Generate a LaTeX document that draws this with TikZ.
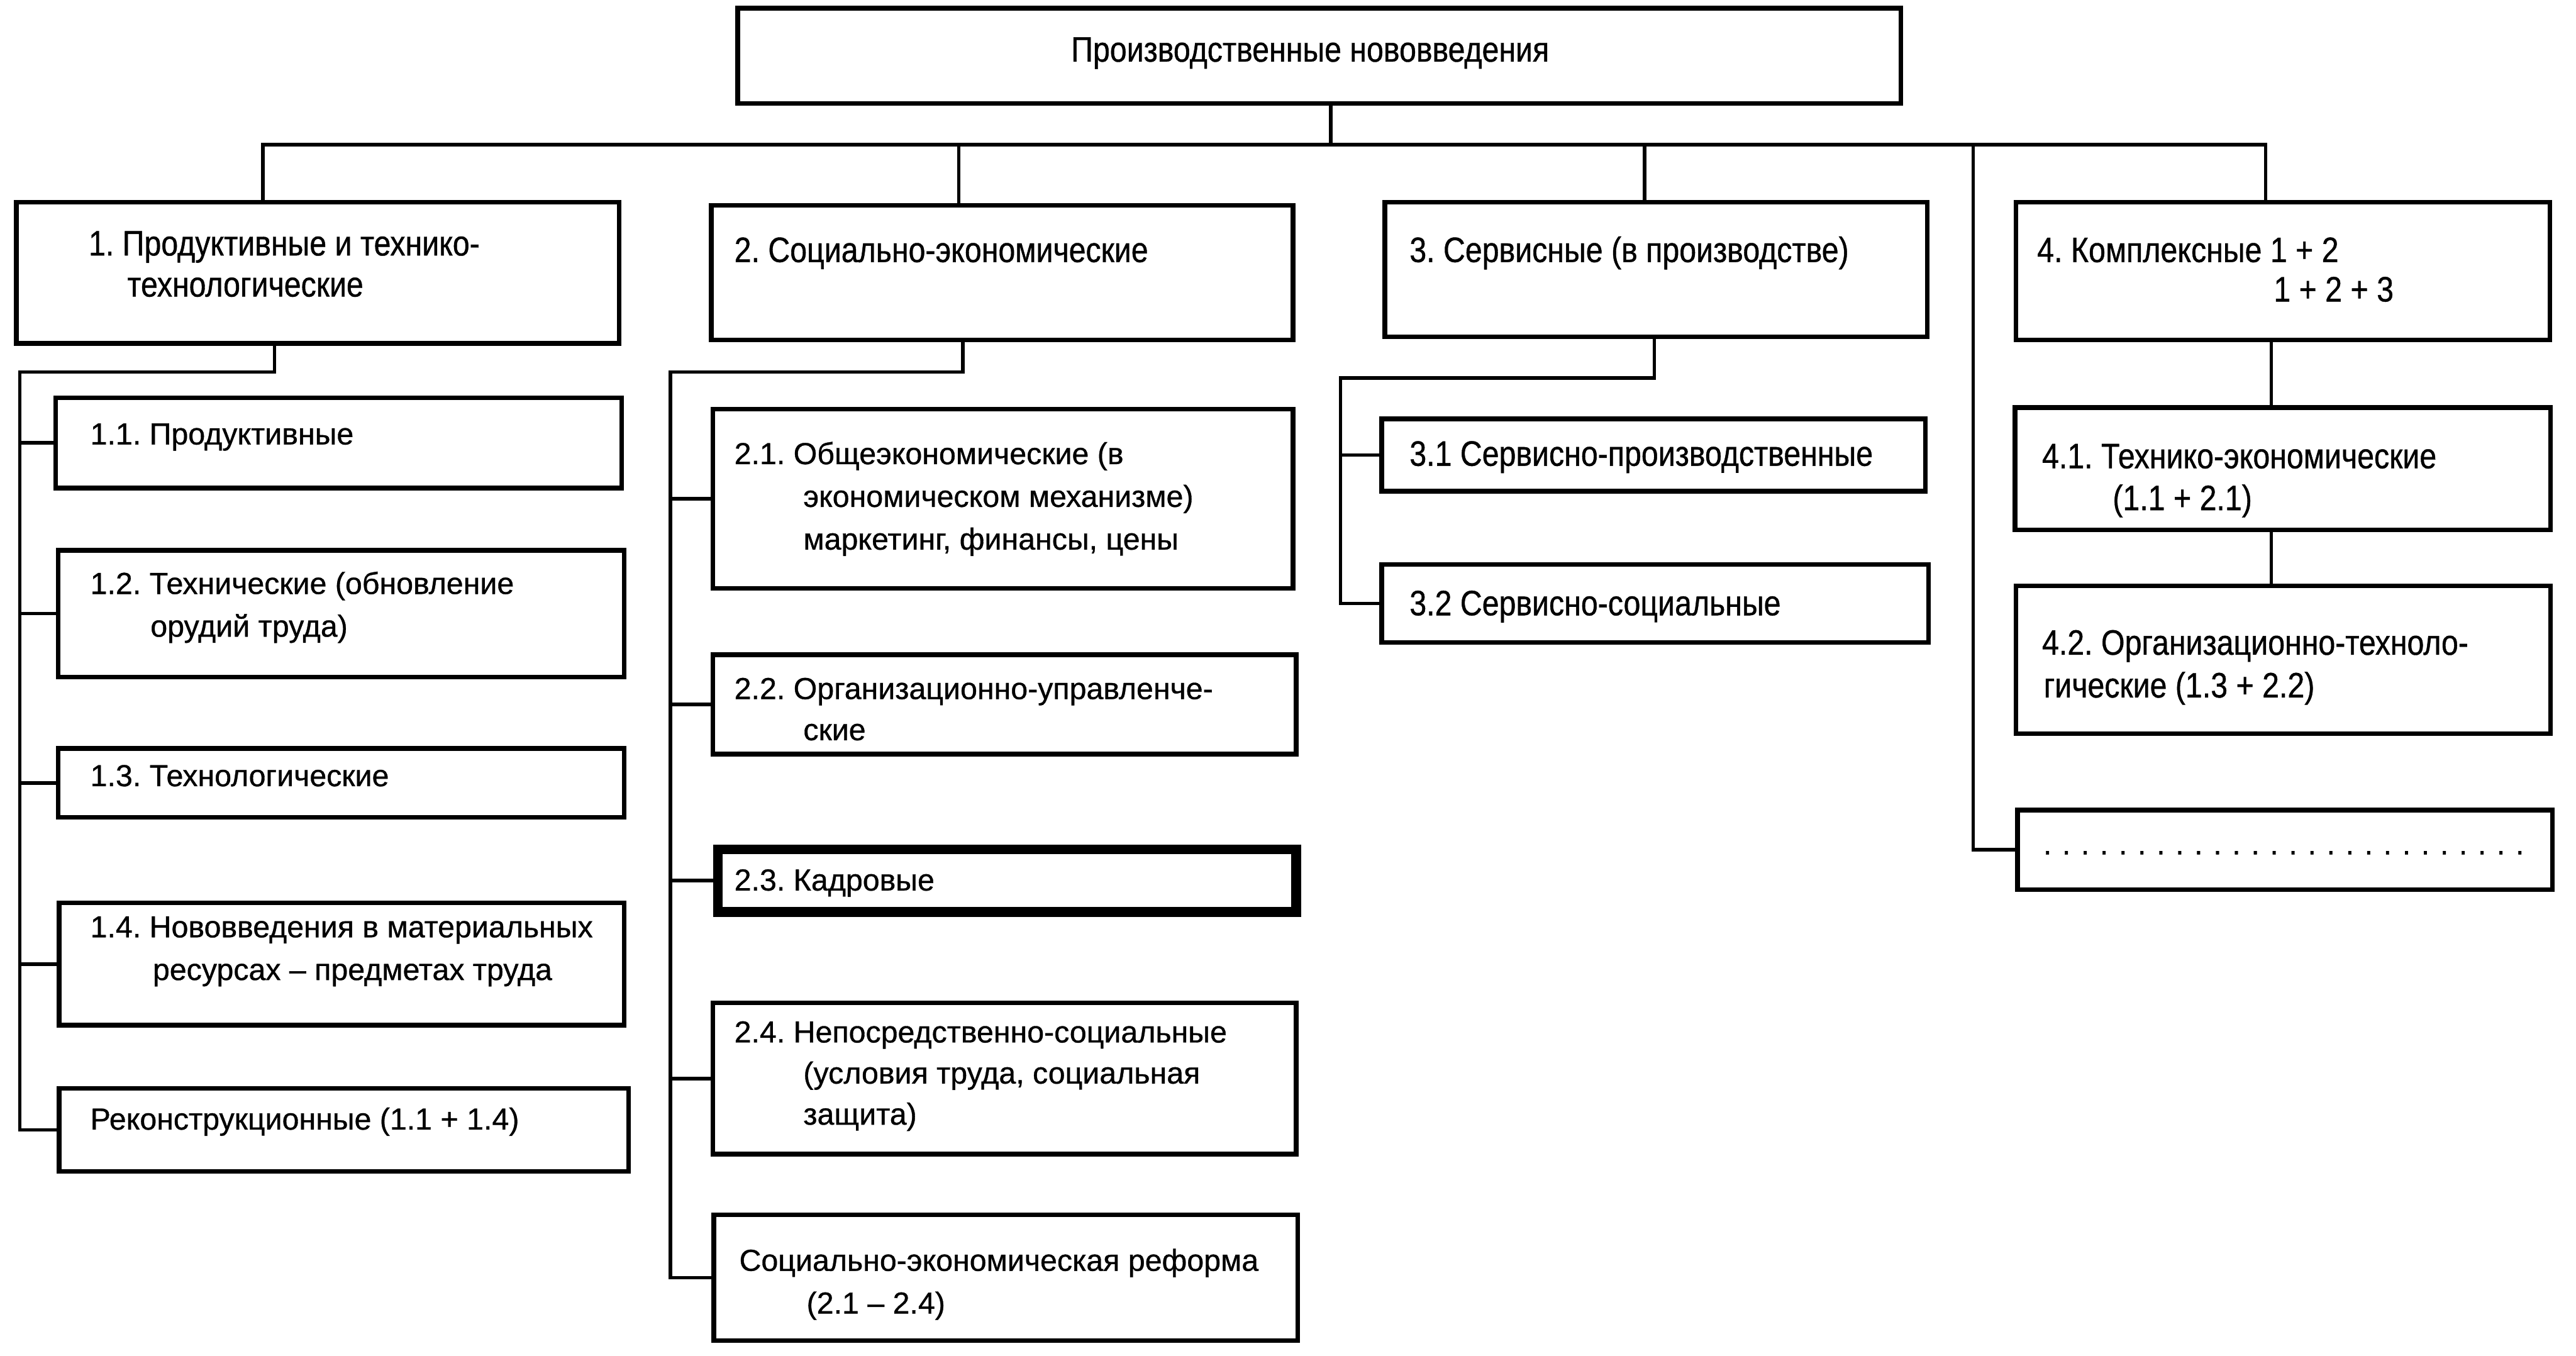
\documentclass[tikz,border=0pt]{standalone}
\usepackage{fontspec}
\setmainfont[FakeBold=0.7]{Liberation Sans}
\newfontfamily\narrowfont[FakeStretch=0.86, FakeBold=0.7]{Liberation Sans}
\frenchspacing
\tikzset{
  box/.style={draw, line width=2.8pt, inner sep=0pt, outer sep=0pt, anchor=north west},
  heavybox/.style={box, line width=6pt},
  conn/.style={line width=2.1pt, line join=miter},
  txt/.style={inner sep=0pt, outer sep=0pt, anchor=base west},
  subtxt/.style={txt, font=\fontsize{18.5}{26}\selectfont\frenchspacing},
  nartxt/.style={txt, font=\narrowfont\fontsize{21.5}{25}\selectfont\frenchspacing},
}
\newcommand\mybox[6][box]{\node[#1, minimum width={#5pt-#3pt}, minimum height={#6pt-#4pt}] (#2) at (#3,#4) {};}
\newcommand\twol[3]{\vtop{\hbox{#1}\hbox{\kern#2pt #3}}}
\newcommand\threel[4]{\vtop{\hbox{#1}\hbox{\kern#2pt #3}\hbox{\kern#2pt #4}}}
\newcommand\dd{\hbox to 11.5pt{\hss.\hss}}
\begin{document}
\begin{tikzpicture}[x=1pt, y=-1pt]
\useasboundingbox (0,0) rectangle (1568,825);
\fill[white] (0,0) rectangle (1568,825);

% boxes
\mybox{top}{449}{5}{1157}{63}
\mybox{b1}{10}{123}{377}{209}
\mybox{b2}{433}{125}{787}{207}
\mybox{b3}{843}{123}{1173}{205}
\mybox{b4}{1227}{123}{1552}{207}

\mybox{b11}{34}{242}{378.5}{297}
\mybox{b12}{35.5}{335}{380}{412}
\mybox{b13}{35.5}{455.5}{380}{497.5}
\mybox{b14}{36}{549.5}{380}{624}
\mybox{b15}{36}{662.5}{382.5}{713}

\mybox{b21}{434}{249}{787}{358}
\mybox{b22}{434}{398.5}{789}{459}
\mybox[heavybox]{b23}{437}{517}{789}{555}
\mybox{b24}{434}{610.5}{789}{702.5}
\mybox{b25}{434.5}{739.5}{790}{816}

\mybox{b31}{841}{255}{1172}{299}
\mybox{b32}{841}{343.5}{1174}{391}

\mybox{b41}{1226.5}{248}{1552.5}{322.5}
\mybox{b42}{1227}{356.5}{1552.5}{446.5}
\mybox{b43}{1228}{493}{1553.5}{541.5}

% texts
\node[nartxt] (t0) at (652,37.5) {Производственные нововведения};
\node[nartxt] (t1) at (54,155.5) {\twol{1. Продуктивные и технико-}{23.5}{технологические}};
\node[nartxt] (t2) at (447,159.5) {2. Социально-экономические};
\node[nartxt] (t3) at (858,159.5) {3. Сервисные (в производстве)};
\node[nartxt, font=\narrowfont\fontsize{21.5}{24}\selectfont] (t4) at (1240,159.5) {\twol{4. Комплексные 1 + 2}{144}{1 + 2 + 3}};

\node[subtxt] (t11) at (55,270.5) {1.1. Продуктивные};
\node[subtxt] (t12) at (55,361.5) {\twol{1.2. Технические (обновление}{36.6}{орудий труда)}};
\node[subtxt] (t13) at (55,478.5) {1.3. Технологические};
\node[subtxt] (t14) at (55,570.5) {\twol{1.4. Нововведения в материальных}{38}{ресурсах – предметах труда}};
\node[subtxt] (t15) at (55,687.5) {Реконструкционные (1.1 + 1.4)};

\node[subtxt] (t21) at (447,282.5) {\threel{2.1. Общеэкономические (в}{42}{экономическом механизме)}{маркетинг, финансы, цены}};
\node[subtxt, font=\fontsize{18.5}{25}\selectfont\frenchspacing] (t22) at (447,425.5) {\twol{2.2. Организационно-управленче-}{42}{ские}};
\node[subtxt] (t23) at (447,542) {2.3. Кадровые};
\node[subtxt, font=\fontsize{18.5}{25}\selectfont\frenchspacing] (t24) at (447,634.5) {\threel{2.4. Непосредственно-социальные}{42}{(условия труда, социальная}{защита)}};
\node[subtxt] (t25) at (450,773.5) {\twol{Социально-экономическая реформа}{41}{(2.1 – 2.4)}};

\node[nartxt] (t31) at (858,283.5) {3.1 Сервисно-производственные};
\node[nartxt] (t32) at (858,374.5) {3.2 Сервисно-социальные};

\node[nartxt, font=\narrowfont\fontsize{21.5}{25.5}\selectfont] (t41) at (1243,285) {\twol{4.1. Технико-экономические}{43}{(1.1 + 2.1)}};
\node[nartxt, font=\narrowfont\fontsize{21.5}{26}\selectfont] (t42) at (1243,398.5) {\twol{4.2. Организационно-техноло-}{1}{гические (1.3 + 2.2)}};
\node[subtxt] (t43) at (1240.5,520) {\dd\dd\dd\dd\dd\dd\dd\dd\dd\dd\dd\dd\dd\dd\dd\dd\dd\dd\dd\dd\dd\dd\dd\dd\dd\dd};

% connectors
\coordinate (busL) at (160,88);
\coordinate (busR) at (1379,88);
\coordinate (s0) at (810,88);
\coordinate (s2) at (583.5,88);
\coordinate (s3) at (1001,88);
\coordinate (s5) at (1201,88);
\draw[conn] (busL |- b1.north) -- (busL) -- (busR) -- (busR |- b4.north);
\draw[conn] (s0 |- top.south) -- (s0);
\draw[conn] (s2) -- (s2 |- b2.north);
\draw[conn] (s3) -- (s3 |- b3.north);
\draw[conn] (s5) -- (s5 |- b43.west) -- (b43.west);

\coordinate (c1) at (167,226.5);
\coordinate (c1L) at (12,226.5);
\draw[conn] (c1 |- b1.south) -- (c1) -- (c1L) -- (c1L |- b15.west) -- (b15.west);
\draw[conn] (c1L |- b11.west) -- (b11.west);
\draw[conn] (c1L |- b12.west) -- (b12.west);
\draw[conn] (c1L |- b13.west) -- (b13.west);
\draw[conn] (c1L |- b14.west) -- (b14.west);

\coordinate (c2) at (586,226.5);
\coordinate (c2L) at (408,226.5);
\draw[conn] (c2 |- b2.south) -- (c2) -- (c2L) -- (c2L |- b25.west) -- (b25.west);
\draw[conn] (c2L |- b21.west) -- (b21.west);
\draw[conn] (c2L |- b22.west) -- (b22.west);
\draw[conn] (c2L |- b23.west) -- (b23.west);
\draw[conn] (c2L |- b24.west) -- (b24.west);

\coordinate (c3) at (1007,230);
\coordinate (c3L) at (816,230);
\draw[conn] (c3 |- b3.south) -- (c3) -- (c3L) -- (c3L |- b32.west) -- (b32.west);
\draw[conn] (c3L |- b31.west) -- (b31.west);

\coordinate (s4) at (1382.5,215);
\draw[conn] (s4 |- b4.south) -- (s4 |- b41.north);
\draw[conn] (s4 |- b41.south) -- (s4 |- b42.north);
\end{tikzpicture}
\end{document}
